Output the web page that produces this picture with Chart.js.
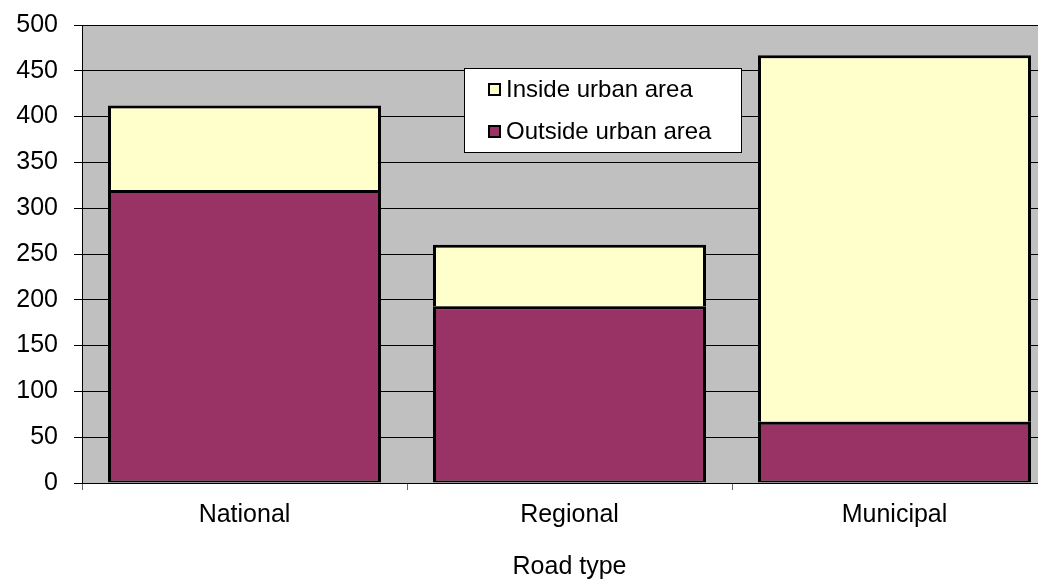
<!DOCTYPE html>
<html>
<head>
<meta charset="utf-8">
<script src="https://cdn.jsdelivr.net/npm/chart.js@4"></script>
<style>
html,body{margin:0;padding:0;background:#fff;overflow:hidden;width:1038px;height:581px;}
#wrap{position:absolute;left:0;top:0;width:1058px;height:581px;}
</style>
</head>
<body>
<div id="wrap"><canvas id="c"></canvas></div>
<script>
const categories = ['National', 'Regional', 'Municipal'];
const outsideUrban = [320, 193, 67];
const insideUrban = [92, 67, 400];
const yTicks = [0, 50, 100, 150, 200, 250, 300, 350, 400, 450, 500];
const xTitle = 'Road type';

const FONT = "'Liberation Sans', Arial, sans-serif";

const bgPlugin = {
  id: 'bg',
  beforeDraw(chart) {
    const {ctx, chartArea: a} = chart;
    ctx.save();
    ctx.fillStyle = '#C0C0C0';
    ctx.fillRect(a.left, a.top, a.right - a.left, a.bottom - a.top);
    ctx.restore();
  }
};

const legendPlugin = {
  id: 'boxLegend',
  afterDraw(chart) {
    const {ctx, chartArea: a} = chart;
    const x0 = a.left + 382, y0 = a.top + 43, w = 277, h = 84;
    ctx.save();
    ctx.fillStyle = '#fff';
    ctx.fillRect(x0, y0, w, h);
    ctx.strokeStyle = '#000';
    ctx.lineWidth = 1;
    ctx.strokeRect(x0 + 0.5, y0 + 0.5, w, h);
    const items = chart.data.datasets.slice().reverse();
    ctx.font = '24px ' + FONT;
    ctx.textBaseline = 'middle';
    items.forEach((ds, i) => {
      const cy = y0 + 21 + i * 42;
      ctx.fillStyle = ds.backgroundColor;
      ctx.fillRect(x0 + 25, cy - 5, 11, 11);
      ctx.lineWidth = 2;
      ctx.strokeStyle = '#000';
      ctx.strokeRect(x0 + 25, cy - 5, 11, 11);
      ctx.fillStyle = '#000';
      ctx.fillText(ds.label, x0 + 42, cy + 1);
    });
    ctx.restore();
  }
};

new Chart(document.getElementById('c'), {
  type: 'bar',
  data: {
    labels: categories,
    datasets: [
      {label: 'Outside urban area', data: outsideUrban, backgroundColor: '#993366', borderColor: '#000',
       borderWidth: {top: 3, left: 3, right: 3, bottom: 2}, borderSkipped: false},
      {label: 'Inside urban area', data: insideUrban, backgroundColor: '#FFFFCC', borderColor: '#000',
       borderWidth: {top: 3, left: 3, right: 3, bottom: 0}, borderSkipped: false}
    ]
  },
  options: {
    responsive: true,
    maintainAspectRatio: false,
    animation: false,
    devicePixelRatio: 1,
    layout: {padding: {top: 25, right: 1, left: 0, bottom: 0}},
    datasets: {bar: {barPercentage: 0.84, categoryPercentage: 1}},
    plugins: {legend: {display: false}, tooltip: {enabled: false}},
    scales: {
      x: {
        stacked: true,
        grid: {display: true, offset: true, drawOnChartArea: false, tickLength: 7, color: '#666', lineWidth: 1},
        border: {display: true, color: '#000', width: 1},
        ticks: {color: '#000', font: {family: FONT, size: 25}, padding: 10},
        title: {display: true, text: xTitle, color: '#000', font: {family: FONT, size: 25, lineHeight: 1.1}, padding: {top: 18, bottom: 0}},
        afterFit(s) { s.height = 98; }
      },
      y: {
        stacked: true,
        min: 0, max: 500,
        afterBuildTicks(s) { s.ticks = yTicks.map(v => ({value: v})); },
        grid: {color: '#000', lineWidth: 1, tickLength: 8},
        border: {display: true, color: '#000', width: 1},
        ticks: {color: '#000', font: {family: FONT, size: 25}, padding: 16},
        afterFit(s) { s.width = 82; s.paddingTop = 0; s.paddingBottom = 0; }
      }
    }
  },
  plugins: [bgPlugin, legendPlugin]
});
</script>
</body>
</html>
